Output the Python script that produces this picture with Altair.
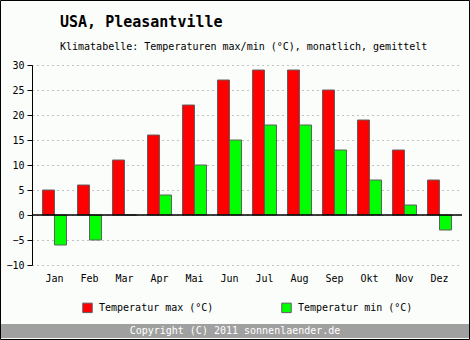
import altair as alt
import pandas as pd

months = ["Jan", "Feb", "Mar", "Apr", "Mai", "Jun", "Jul", "Aug", "Sep", "Okt", "Nov", "Dez"]
tmax = [5, 6, 11, 16, 22, 27, 29, 29, 25, 19, 13, 7]
tmin = [-6, -5, 0, 4, 10, 15, 18, 18, 13, 7, 2, -3]
series = ["Temperatur max (°C)", "Temperatur min (°C)"]
colors = ["#ff0000", "#00ff00"]
yticks = [-10, -5, 0, 5, 10, 15, 20, 25, 30]

title = "USA, Pleasantville"
subtitle = "Klimatabelle: Temperaturen max/min (°C), monatlich, gemittelt"
footer = "Copyright (C) 2011 sonnenlaender.de"

rows = []
for m, a, b in zip(months, tmax, tmin):
    rows.append({"Monat": m, "Serie": series[0], "Wert": a})
    rows.append({"Monat": m, "Serie": series[1], "Wert": b})
df = pd.DataFrame(rows)
one = pd.DataFrame({"k": [0]})

FONT = "DejaVu Sans Mono"

y_scale = alt.Scale(domain=[-10, 30], nice=False)
y_axis = alt.Axis(title=None, values=yticks, tickCount=9, grid=True, gridDash=[1, 4],
                  gridColor="#888888", domainColor="black", tickColor="black",
                  tickSize=5, labelFont=FONT, labelFontSize=10,
                  labelColor="black", labelPadding=3, labelOverlap=False)

bars = alt.Chart(df).mark_bar(stroke="#606060", strokeWidth=1).encode(
    x=alt.X("Monat:N", sort=months,
            scale=alt.Scale(paddingInner=0.314, paddingOuter=0.3),
            axis=alt.Axis(title=None, labelAngle=0, ticks=False, domain=False,
                          labelPadding=8, labelFont=FONT, labelFontSize=10,
                          labelColor="black", grid=False)),
    xOffset=alt.XOffset("Serie:N", sort=series, scale=alt.Scale(paddingInner=0, paddingOuter=0)),
    y=alt.Y("Wert:Q", scale=y_scale, axis=y_axis),
    color=alt.Color("Serie:N", sort=series,
                    scale=alt.Scale(domain=series, range=colors),
                    legend=alt.Legend(title=None, orient="none", legendX=50, legendY=237,
                                      direction="horizontal", symbolType="square",
                                      symbolSize=90, symbolStrokeColor="#606060",
                                      symbolStrokeWidth=1, labelFont=FONT,
                                      labelFontSize=10, labelColor="black",
                                      labelOffset=6, columnPadding=65, padding=0)),
)

zero = alt.Chart(one).mark_rule(color="black", strokeWidth=1.5).encode(
    y=alt.Y(datum=0, scale=y_scale, axis=y_axis))

title_text = alt.Chart(one).mark_text(font=FONT, fontSize=15, fontWeight="bold", color="black",
                                      align="left", baseline="alphabetic").encode(
    x=alt.value(28), y=alt.value(-38), text=alt.value(title))
sub_text = alt.Chart(one).mark_text(font=FONT, fontSize=10, color="black",
                                    align="left", baseline="alphabetic").encode(
    x=alt.value(28), y=alt.value(-15), text=alt.value(subtitle))
foot_rect = alt.Chart(one).mark_rect(color="#a0a0a0").encode(
    x=alt.value(-31), x2=alt.value(437), y=alt.value(259), y2=alt.value(273))
foot_text = alt.Chart(one).mark_text(font=FONT, fontSize=10, color="white",
                                     align="center", baseline="middle").encode(
    x=alt.value(203), y=alt.value(266), text=alt.value(footer))
border = alt.Chart(one).mark_rect(fill=None, stroke="black", strokeWidth=1).encode(
    x=alt.value(-31.5), x2=alt.value(437.5), y=alt.value(-64.5), y2=alt.value(274.5))

chart = alt.layer(bars, zero, title_text, sub_text, foot_rect, foot_text, border).properties(
    width=430, height=200,
    autosize=alt.AutoSizeParams(type="none"),
    padding={"left": 32, "top": 65, "right": 8, "bottom": 75},
    background="#fbfdfb",
).configure_view(stroke=None)

chart.save("out.html", embed_options={"renderer": "svg", "actions": False})
